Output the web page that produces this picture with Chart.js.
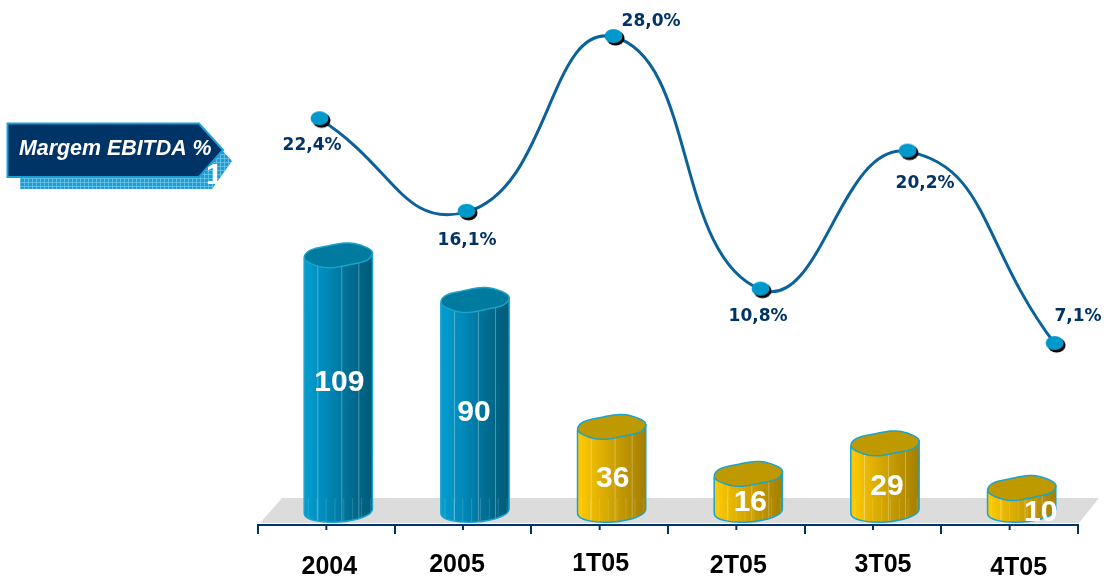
<!DOCTYPE html>
<html>
<head>
<meta charset="utf-8">
<title>Margem EBITDA</title>
<script src="https://cdn.jsdelivr.net/npm/chart.js@4/dist/chart.umd.min.js"></script>
<style>
html, body { margin: 0; padding: 0; background: #fff; }
canvas { display: block; }
</style>
</head>
<body>
<canvas id="myChart" width="1104" height="578"></canvas>
<script>
const categories = ['2004', '2005', '1T05', '2T05', '3T05', '4T05'];
const ebitda = [109, 90, 36, 16, 29, 10];
const margem = [22.4, 16.1, 28.0, 10.8, 20.2, 7.1];
const margemLabels = ['22,4%', '16,1%', '28,0%', '10,8%', '20,2%', '7,1%'];

// label nudges, the source slide has them placed by hand
const margemNudge = [[-8, 26], [0, 29], [37, -15], [-3, 27], [17, 32], [23, -27]];
const barNudge = [[1, -1], [-1, 7], [1, 10], [2, 10], [2, 9], [19, 13]];
const categoryNudge = [[3, 42], [-6, 40], [1, 39], [2, 41], [10, 40], [9, 43]];

const blue = { side: ['#009fd0', '#0088b8', '#006d92', '#005a78'], top: '#007a9f' };
const gold = { side: ['#ffcc00', '#e0b000', '#c09600', '#a37f00'], top: '#bf9900' };
const barSkins = [blue, blue, gold, gold, gold, gold];

const barShift = 12;   // cylinders sit to the right of the ticks (perspective)
const floorTop = 498;

function markerCanvas() {
    const c = document.createElement('canvas');
    c.width = 26;
    c.height = 22;
    const g = c.getContext('2d');
    g.fillStyle = '#000';
    g.beginPath();
    g.ellipse(14.5, 12, 9, 7.5, 0, 0, Math.PI * 2);
    g.fill();
    g.fillStyle = '#0099cc';
    g.beginPath();
    g.ellipse(12.5, 10, 9, 7, 0, 0, Math.PI * 2);
    g.fill();
    return c;
}

// the lids on the slide are a bit lumpy, not clean ellipses
function lidPath(g, cx, cy, rx, ry, tilt) {
    g.beginPath();
    for (let k = 0; k < 72; k++) {
        const a = k / 72 * Math.PI * 2;
        const ex = Math.cos(a) * rx;
        const ey = Math.sin(a) * (ry + 0.9 * Math.sin(a * 4));
        const px = cx + ex * Math.cos(tilt) - ey * Math.sin(tilt);
        const py = cy + ex * Math.sin(tilt) + ey * Math.cos(tilt);
        if (k === 0) g.moveTo(px, py); else g.lineTo(px, py);
    }
    g.closePath();
}

function drawCylinder(g, cx, top, bottom, width, skin) {
    const rx = width / 2, ry = 11.5, tilt = -0.07;
    const left = cx - rx, right = cx + rx;
    const grad = g.createLinearGradient(left, 0, right, 0);
    skin.side.forEach((col, i) => grad.addColorStop(i / (skin.side.length - 1), col));

    g.save();
    g.beginPath();
    g.moveTo(left, top + 3);
    g.lineTo(right, top - 3);
    g.lineTo(right, bottom - 3);
    g.ellipse(cx, bottom, rx, ry - 1, tilt, 0, Math.PI);
    g.closePath();
    g.fillStyle = grad;
    g.fill();
    g.clip();
    // thin light facets on the side
    g.strokeStyle = 'rgba(255,255,255,0.3)';
    g.lineWidth = 1;
    [0.2, 0.55, 0.8].forEach(p => {
        g.beginPath();
        g.moveTo(left + width * p, top);
        g.lineTo(left + width * p, bottom + ry);
        g.stroke();
    });
    g.strokeStyle = 'rgba(255,255,255,0.15)';
    for (let p = 0.06; p < 1; p += 0.13) {
        g.beginPath();
        g.moveTo(left + width * p, floorTop);
        g.lineTo(left + width * p, bottom + ry);
        g.stroke();
    }
    g.restore();

    g.strokeStyle = '#1aa3cc';
    g.lineWidth = 1.5;
    g.beginPath();
    g.moveTo(left, top + 3);
    g.lineTo(left, bottom - 3);
    g.ellipse(cx, bottom, rx, ry - 1, tilt, Math.PI, 0, true);
    g.lineTo(right, top - 3);
    g.stroke();

    lidPath(g, cx, top, rx, ry, tilt);
    g.fillStyle = skin.top;
    g.fill();
    g.stroke();
}

function drawBadge(g) {
    // shadow block with the small grid
    g.save();
    g.beginPath();
    g.moveTo(20, 178); g.lineTo(199, 178); g.lineTo(222, 150);
    g.lineTo(232, 161); g.lineTo(212, 189); g.lineTo(20, 189);
    g.closePath();
    g.fillStyle = '#1a9fd4';
    g.fill();
    g.clip();
    g.strokeStyle = 'rgba(120,200,235,0.7)';
    g.lineWidth = 1;
    for (let x = 20; x < 234; x += 4) {
        g.beginPath(); g.moveTo(x + 0.5, 150); g.lineTo(x + 0.5, 190); g.stroke();
    }
    for (let y = 150; y < 190; y += 4) {
        g.beginPath(); g.moveTo(20, y + 0.5); g.lineTo(234, y + 0.5); g.stroke();
    }
    g.restore();

    g.beginPath();
    g.moveTo(7.5, 123.5); g.lineTo(199, 123.5); g.lineTo(223, 150);
    g.lineTo(199, 177); g.lineTo(7.5, 177);
    g.closePath();
    g.fillStyle = '#003366';
    g.fill();
    g.strokeStyle = '#1a9fd4';
    g.lineWidth = 2;
    g.stroke();

    g.fillStyle = '#fff';
    g.textAlign = 'left';
    g.textBaseline = 'middle';
    g.font = 'italic bold 21.4px "Liberation Sans"';
    g.fillText('Margem EBITDA %', 19, 149);
    g.font = 'bold 30px "Liberation Sans"';
    g.fillText('1', 206, 176);
}

const slidePlugin = {
    id: 'slide',
    beforeDatasetsDraw(chart) {
        const g = chart.ctx, area = chart.chartArea, x = chart.scales.x;
        drawBadge(g);

        g.fillStyle = '#dcdcdc';
        g.beginPath();
        g.moveTo(area.left + 2, area.bottom - 2);
        g.lineTo(area.left + 24, floorTop);
        g.lineTo(area.right + 21, floorTop);
        g.lineTo(area.right + 1, area.bottom - 2);
        g.closePath();
        g.fill();

        // short ticks under each category
        g.strokeStyle = '#003366';
        g.lineWidth = 2;
        categories.forEach((c, i) => {
            const px = x.getPixelForValue(i);
            g.beginPath();
            g.moveTo(px, area.bottom);
            g.lineTo(px, area.bottom + 5);
            g.stroke();
        });

        // category names drift a little on the slide, ticks can't do that
        g.fillStyle = '#000';
        g.textAlign = 'center';
        g.textBaseline = 'middle';
        g.font = 'bold 25px "Liberation Sans"';
        categories.forEach((c, i) => {
            g.fillText(c, x.getPixelForValue(i) + categoryNudge[i][0], area.bottom + categoryNudge[i][1]);
        });

        chart.getDatasetMeta(0).data.forEach((bar, i) => {
            drawCylinder(g, bar.x + barShift, bar.y, bar.base, bar.width, barSkins[i]);
        });
    },
    afterDatasetsDraw(chart) {
        const g = chart.ctx;
        g.textAlign = 'center';
        g.textBaseline = 'middle';

        g.fillStyle = '#fff';
        g.font = 'bold 30px "Liberation Sans"';
        chart.getDatasetMeta(0).data.forEach((bar, i) => {
            g.fillText(String(ebitda[i]), bar.x + barShift + barNudge[i][0],
                (bar.y + bar.base) / 2 + barNudge[i][1]);
        });

        g.fillStyle = '#003366';
        g.font = 'bold 17px "DejaVu Sans"';
        chart.getDatasetMeta(1).data.forEach((pt, i) => {
            g.fillText(margemLabels[i], pt.x + margemNudge[i][0], pt.y + margemNudge[i][1]);
        });
    }
};

const ctx = document.getElementById('myChart').getContext('2d');
const myChart = new Chart(ctx, {
    type: 'bar',
    data: {
        labels: categories,
        datasets: [{
            type: 'bar',
            label: 'EBITDA',
            data: ebitda,
            xAxisID: 'x',
            yAxisID: 'y',
            backgroundColor: 'transparent',
            grouped: false,
            barPercentage: 0.5,
            categoryPercentage: 1,
            order: 2
        }, {
            type: 'line',
            label: 'Margem EBITDA %',
            data: margem.map((v, i) => ({ x: i, y: v })),
            xAxisID: 'xLine',
            yAxisID: 'yMargem',
            borderColor: '#0b6199',
            borderWidth: 3,
            tension: 0.5,
            pointStyle: markerCanvas(),
            clip: false,
            order: 1
        }]
    },
    options: {
        responsive: false,
        animation: false,
        layout: { padding: { left: 258, right: 26, top: 10, bottom: 0 } },
        plugins: { legend: { display: false }, tooltip: { enabled: false } },
        scales: {
            x: {
                type: 'category',
                offset: true,
                border: { color: '#003366', width: 2 },
                grid: {
                    offset: true,
                    drawOnChartArea: false,
                    color: '#003366',
                    lineWidth: 2,
                    tickLength: 9
                },
                ticks: { display: false },
                afterFit(scale) { scale.height = 53; }
            },
            xLine: { type: 'linear', display: false, offset: false, min: -0.422, max: 5.156 },
            y: { display: false, min: -5.74, max: 213.4 },
            yMargem: { display: false, position: 'right', min: -5.22, max: 29.84 }
        }
    },
    plugins: [slidePlugin]
});
</script>
</body>
</html>
